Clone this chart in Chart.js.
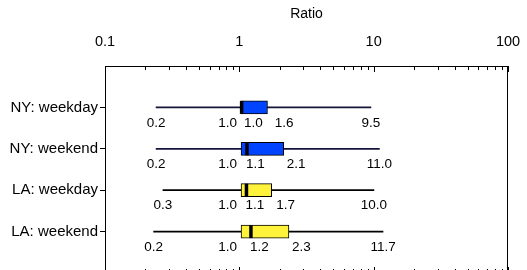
<!DOCTYPE html>
<html>
<head>
<meta charset="utf-8">
<script src="https://cdn.jsdelivr.net/npm/chart.js@4.4.1/dist/chart.umd.min.js"></script>
<style>
  html, body { margin: 0; padding: 0; background: #fff; overflow: hidden; }
  #wrap { width: 527px; height: 276px; position: relative; }
</style>
</head>
<body>
<div id="wrap"><canvas id="ratioChart"></canvas></div>
<script>
// Data
const categories = ['NY: weekday', 'NY: weekend', 'LA: weekday', 'LA: weekend'];
const minValues = [0.24, 0.24, 0.27, 0.23];
const q1Values = [1.03, 1.03, 1.03, 1.03];
const medianValues = [1.04, 1.14, 1.13, 1.22];
const q3Values = [1.62, 2.14, 1.74, 2.34];
const maxValues = [9.54, 11.04, 10.04, 11.74];
const xTickValues = [0.1, 1, 10, 100];

const boxColors = ['#0044ff', '#0044ff', '#fff23a', '#fff23a'];
const whiskerColors = ['#14143a', '#14143a', '#000000', '#000000'];

Chart.defaults.font.family = '"Liberation Sans", Arial, sans-serif';
Chart.defaults.color = '#000';

// frame, inward tick marks, medians and value labels
const boxExtras = {
    id: 'boxExtras',
    afterDatasetsDraw(chart) {
        const ctx = chart.ctx;
        const area = chart.chartArea;
        const xs = chart.scales.x;
        const ys = chart.scales.y;

        ctx.save();
        ctx.strokeStyle = '#000';
        ctx.lineWidth = 1;

        // frame
        ctx.strokeRect(Math.round(area.left) + 0.5, Math.round(area.top) + 0.5,
            Math.round(area.right - area.left) - 1, Math.round(area.bottom - area.top) - 1);

        // log ticks pointing inward, top and bottom
        for (let d = -1; d <= 2; d++) {
            for (let m = 1; m <= 9; m++) {
                const v = m * Math.pow(10, d);
                if (v > 100) break;
                const px = Math.round(xs.getPixelForValue(v)) + 0.5;
                const len = m === 1 ? 6 : 4;
                ctx.beginPath();
                ctx.moveTo(px, area.top);
                ctx.lineTo(px, area.top + len);
                ctx.moveTo(px, area.bottom);
                ctx.lineTo(px, area.bottom - len);
                ctx.stroke();
            }
        }

        // medians
        ctx.lineWidth = 3.5;
        medianValues.forEach((v, i) => {
            const px = xs.getPixelForValue(v);
            const py = ys.getPixelForValue(i);
            ctx.beginPath();
            ctx.moveTo(px, py - 6.5);
            ctx.lineTo(px, py + 6.5);
            ctx.stroke();
        });

        // value labels under each box
        ctx.fillStyle = '#000';
        ctx.font = '13.5px "Liberation Sans", Arial, sans-serif';
        ctx.textBaseline = 'middle';
        categories.forEach((c, i) => {
            const y = ys.getPixelForValue(i) + 15.5;
            const minPx = xs.getPixelForValue(minValues[i]);
            const q1Px = xs.getPixelForValue(q1Values[i]);
            const medPx = xs.getPixelForValue(medianValues[i]);
            const q3Px = xs.getPixelForValue(q3Values[i]);
            const maxPx = xs.getPixelForValue(maxValues[i]);

            ctx.textAlign = 'center';
            ctx.fillText(minValues[i].toFixed(1), minPx, y);
            ctx.fillText(maxValues[i].toFixed(1), maxPx, y);

            ctx.textAlign = 'right';
            ctx.fillText(q1Values[i].toFixed(1), q1Px - 4, y);

            ctx.textAlign = 'left';
            const medText = medianValues[i].toFixed(1);
            const medLeft = Math.max(medPx - 1, q1Px + 3);
            ctx.fillText(medText, medLeft, y);
            const medRight = medLeft + ctx.measureText(medText).width;
            ctx.fillText(q3Values[i].toFixed(1), Math.max(q3Px + 3, medRight + 12), y);
        });
        ctx.restore();
    }
};

const ctx = document.getElementById('ratioChart').getContext('2d');
new Chart(ctx, {
    type: 'bar',
    data: {
        datasets: [
            {
                label: 'Whiskers',
                data: categories.map((c, i) => ({ y: i, x: [minValues[i], maxValues[i]] })),
                backgroundColor: whiskerColors,
                borderWidth: 0,
                barThickness: 1,
                grouped: false,
                order: 2
            },
            {
                label: 'Box',
                data: categories.map((c, i) => ({ y: i, x: [q1Values[i], q3Values[i]] })),
                backgroundColor: boxColors,
                borderColor: '#000',
                borderWidth: 1,
                borderSkipped: false,
                barThickness: 13,
                grouped: false,
                order: 1
            }
        ]
    },
    options: {
        indexAxis: 'y',
        responsive: true,
        maintainAspectRatio: false,
        animation: false,
        layout: { padding: { right: 19, bottom: 3, left: 0, top: 0 } },
        plugins: {
            legend: { display: false },
            tooltip: { enabled: false }
        },
        scales: {
            x: {
                type: 'logarithmic',
                position: 'top',
                min: 0.1,
                max: 100,
                afterBuildTicks: (scale) => {
                    scale.ticks = xTickValues.map(v => ({ value: v }));
                },
                afterFit: (scale) => {
                    scale.height = 66;
                    scale.paddingLeft = 0;
                    scale.paddingRight = 0;
                },
                ticks: {
                    autoSkip: false,
                    maxRotation: 0,
                    padding: 15,
                    font: { size: 14.5 },
                    callback: (v) => String(v)
                },
                grid: { display: false, drawTicks: false },
                border: { display: false },
                title: {
                    display: true,
                    text: 'Ratio',
                    font: { size: 14 },
                    padding: { top: 6, bottom: 0 }
                }
            },
            y: {
                type: 'linear',
                reverse: true,
                offset: false,
                min: -1,
                max: 4,
                afterBuildTicks: (scale) => {
                    scale.ticks = categories.map((c, i) => ({ value: i }));
                },
                afterFit: (scale) => {
                    scale.width = 105;
                    scale.paddingTop = 0;
                    scale.paddingBottom = 0;
                },
                ticks: {
                    padding: 2,
                    font: { size: 15 },
                    callback: (v) => categories[v]
                },
                grid: {
                    offset: false,
                    drawOnChartArea: false,
                    drawTicks: true,
                    tickLength: 5,
                    color: '#000'
                },
                border: { display: false }
            }
        }
    },
    plugins: [boxExtras]
});
</script>
</body>
</html>
